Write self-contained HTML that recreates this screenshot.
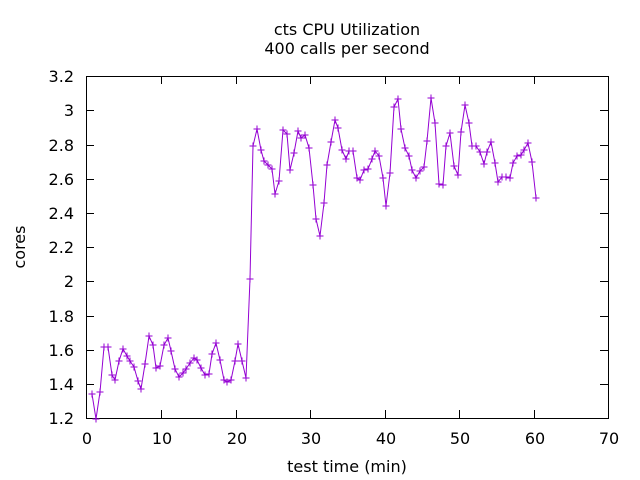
<!DOCTYPE html>
<html><head><style>body{margin:0;background:#fff}svg{display:block}text{font-family:"DejaVu Sans",sans-serif;font-size:16px;fill:#000}</style></head><body>
<svg width="640" height="480" viewBox="0 0 640 480" xmlns="http://www.w3.org/2000/svg">
<rect width="640" height="480" fill="#fff"/>
<text x="347" y="35" text-anchor="middle">cts CPU Utilization</text>
<text x="347" y="54" text-anchor="middle">400 calls per second</text>
<g stroke="#000" stroke-width="1" fill="none">
<rect x="86.5" y="76.5" width="522" height="342"/>
<path d="M86,384.5h8M86,350.5h8M86,316.5h8M86,281.5h8M86,247.5h8M86,213.5h8M86,179.5h8M86,145.5h8M86,110.5h8
M608,384.5h-8M608,350.5h-8M608,316.5h-8M608,281.5h-8M608,247.5h-8M608,213.5h-8M608,179.5h-8M608,145.5h-8M608,110.5h-8
M161.5,418v-8M236.5,418v-8M310.5,418v-8M385.5,418v-8M459.5,418v-8M534.5,418v-8
M161.5,76v8M236.5,76v8M310.5,76v8M385.5,76v8M459.5,76v8M534.5,76v8"/>
</g>
<g text-anchor="end">
<text x="74" y="424">1.2</text><text x="74" y="390">1.4</text><text x="74" y="356">1.6</text><text x="74" y="322">1.8</text><text x="74" y="287">2</text><text x="74" y="253">2.2</text><text x="74" y="219">2.4</text><text x="74" y="185">2.6</text><text x="74" y="151">2.8</text><text x="74" y="116">3</text><text x="74" y="82">3.2</text>
</g>
<g text-anchor="middle">
<text x="87" y="444">0</text><text x="162" y="444">10</text><text x="237" y="444">20</text><text x="311" y="444">30</text><text x="386" y="444">40</text><text x="460" y="444">50</text><text x="535" y="444">60</text><text x="609" y="444">70</text>
<text x="347" y="472">test time (min)</text>
</g>
<text transform="translate(25,247) rotate(-90)" text-anchor="middle">cores</text>
<polyline id="d" fill="none" stroke="#9400d3" stroke-width="1" points="92,394 96,419 100,392 104,347 108,347 112,375 115,380 119,361 123,349 127,356 130,361 134,367 138,381 141,389 145,364 149,336 153,345 156,368 160,366 164,345 168,338 171,351 175,369 179,377 183,373 186,369 190,363 194,358 197,360 201,368 205,375 209,374 212,354 216,343 220,360 224,380 227,382 231,380 235,361 238,344 242,361 246,378 250,279 253,146 257,129 261,150 264,161 268,165 272,169 275,194 279,181 283,130 287,134 290,170 294,153 298,131 301,138 305,135 309,148 313,185 316,219 320,236 324,203 327,165 331,142 335,120 338,128 342,150 346,159 349,151 353,151 357,178 360,180 364,170 368,169 372,159 375,151 379,156 383,178 386,206 390,173 394,107 398,99 401,129 405,148 409,156 412,170 416,178 420,171 424,167 427,141 431,98 435,123 439,184 443,185 446,146 450,133 454,166 458,175 461,132 465,105 469,123 472,146 476,146 480,152 484,164 487,152 491,142 495,163 498,182 502,177 506,177 510,178 513,163 517,156 521,155 524,150 528,143 532,162 536,198"/>
<path id="m" fill="none" stroke="#9400d3" stroke-width="1" d=""/>
<script>
var p=document.getElementById('d').getAttribute('points').trim().split(/\s+/),s='';
p.forEach(function(q){var a=q.split(',');var x=+a[0],y=+a[1];s+='M'+(x-3.5)+','+y+'h7M'+x+','+(y-3.5)+'v7';});
document.getElementById('m').setAttribute('d',s);
</script>
</svg>
</body></html>
